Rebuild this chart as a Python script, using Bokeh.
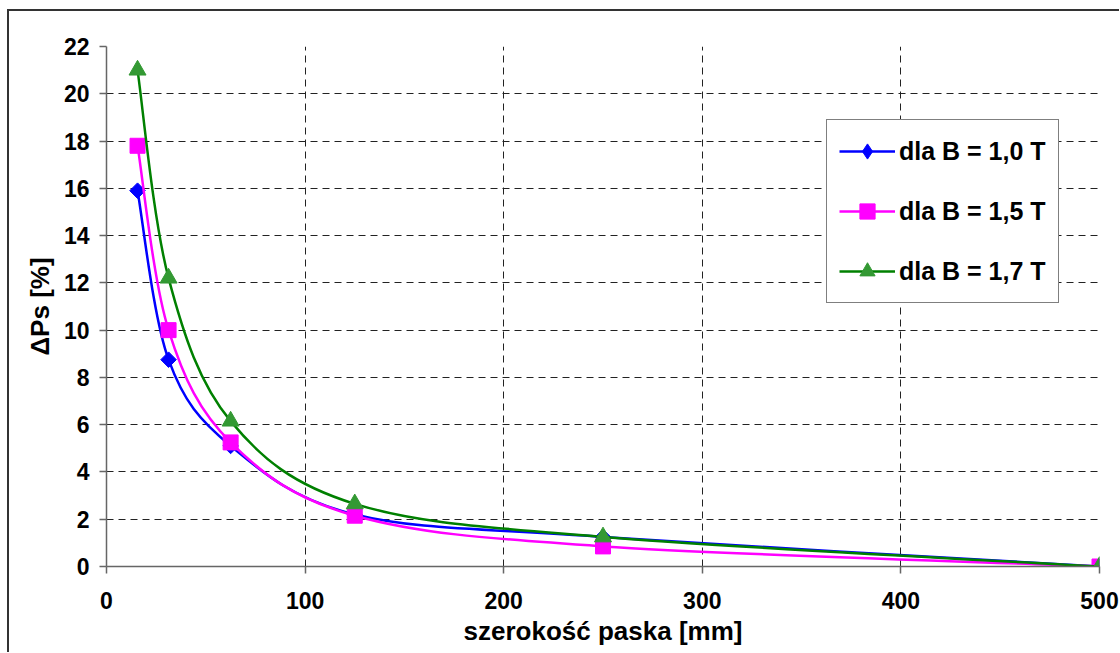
import numpy as np
from bokeh.plotting import figure
from bokeh.models import Range1d, SingleIntervalTicker, Legend, LegendItem
from bokeh.embed import file_html
from bokeh.resources import INLINE

# ---- data ----
widths = [15.625, 31.25, 62.5, 125, 250, 500]
labels = ["dla B = 1,0 T", "dla B = 1,5 T", "dla B = 1,7 T"]
dps_b10 = [15.9, 8.75, 5.1, 2.2, 1.25, 0.0]
dps_b15 = [17.8, 10.0, 5.25, 2.15, 0.85, 0.0]
dps_b17 = [21.0, 12.2, 6.15, 2.65, 1.25, 0.0]
x_label = "szerokość paska [mm]"
y_label = "ΔPs [%]"

# name, values, line colour, marker colour, marker, size, angle, legend marker
series = [
    (labels[0], dps_b10, "#0000FF", "#0000FF", "square", 11, np.pi / 4, "diamond"),
    (labels[1], dps_b15, "#FF00FF", "#FF00FF", "square", 15, 0.0, "square"),
    (labels[2], dps_b17, "#008000", "#339933", "triangle", 17, 0.0, "triangle"),
]

FONT = "Liberation Sans"

p = figure(
    width=1112, height=643,
    x_range=Range1d(0, 500), y_range=Range1d(0, 22),
    output_backend="svg", toolbar_location=None,
    min_border_left=97, min_border_right=22, min_border_top=35, min_border_bottom=88,
    background_fill_color="white", border_fill_color="white",
)
p.styles = {"margin-left": "7px", "margin-top": "9px",
            "border-left": "2px solid #333333", "border-top": "2px solid #333333"}
p.outline_line_color = None

# axes
p.xaxis.ticker = SingleIntervalTicker(interval=100)
p.yaxis.ticker = SingleIntervalTicker(interval=2)
for ax in (p.xaxis[0], p.yaxis[0]):
    ax.axis_line_color = "#666666"
    ax.axis_line_width = 1.5
    ax.major_tick_line_color = "#666666"
    ax.major_tick_line_width = 1.5
    ax.major_tick_out = 7
    ax.major_tick_in = 0
    ax.minor_tick_line_color = None
    ax.major_label_text_font = FONT
    ax.major_label_text_font_style = "bold"
    ax.major_label_text_font_size = "23px"
    ax.major_label_text_color = "black"
    ax.axis_label_text_font = FONT
    ax.axis_label_text_font_style = "bold"
    ax.axis_label_text_font_size = "26px"
    ax.axis_label_text_color = "black"
p.xaxis.axis_label = x_label
p.yaxis.axis_label = y_label
p.xaxis.major_label_standoff = 18
p.yaxis.major_label_standoff = 10
p.xaxis.axis_label_standoff = 4
p.yaxis.axis_label_standoff = 6

# grid
for g in (p.xgrid[0], p.ygrid[0]):
    g.grid_line_color = "#222222"
    g.grid_line_dash = "7 5"
    g.grid_line_width = 1


def bezier_segments(xs, ys):
    n = len(xs)
    out = {"x0": [], "y0": [], "x1": [], "y1": [], "cx0": [], "cy0": [], "cx1": [], "cy1": []}
    for i in range(n - 1):
        im = max(i - 1, 0)
        i2 = min(i + 2, n - 1)
        out["x0"].append(xs[i]); out["y0"].append(ys[i])
        out["x1"].append(xs[i + 1]); out["y1"].append(ys[i + 1])
        out["cx0"].append(xs[i] + (xs[i + 1] - xs[im]) / 6.0)
        out["cy0"].append(ys[i] + (ys[i + 1] - ys[im]) / 6.0)
        out["cx1"].append(xs[i + 1] - (xs[i2] - xs[i]) / 6.0)
        out["cy1"].append(ys[i + 1] - (ys[i2] - ys[i]) / 6.0)
    return out


items = []
for name, vals, lcol, mcol, marker, size, ang, lmarker in series:
    seg = bezier_segments(widths, vals)
    p.bezier(x0="x0", y0="y0", x1="x1", y1="y1", cx0="cx0", cy0="cy0",
             cx1="cx1", cy1="cy1", source=seg, line_color=lcol, line_width=2.5)
    p.scatter(x=widths, y=vals, marker=marker, size=size, angle=ang,
              fill_color=mcol, line_color=mcol, line_width=1)
    # legend-only renderers (no visible data in the plot)
    lr = p.line(x=[np.nan, np.nan], y=[np.nan, np.nan], line_color=lcol, line_width=2.5)
    mr = p.scatter(x=[np.nan], y=[np.nan], marker=lmarker, size=size,
                   fill_color=mcol, line_color=mcol, line_width=1)
    items.append(LegendItem(label=name, renderers=[lr, mr]))

legend = Legend(
    items=items, location=(720, 263),
    border_line_color="black", border_line_width=1.2,
    background_fill_color="white", background_fill_alpha=1.0,
    label_text_font=FONT, label_text_font_style="bold", label_text_font_size="25px",
    label_text_color="black",
    glyph_width=56, glyph_height=38, label_height=38,
    spacing=22, padding=12, margin=0, label_standoff=4,
)
p.add_layout(legend, "center")

open("out.html", "w").write(file_html(p, INLINE))
